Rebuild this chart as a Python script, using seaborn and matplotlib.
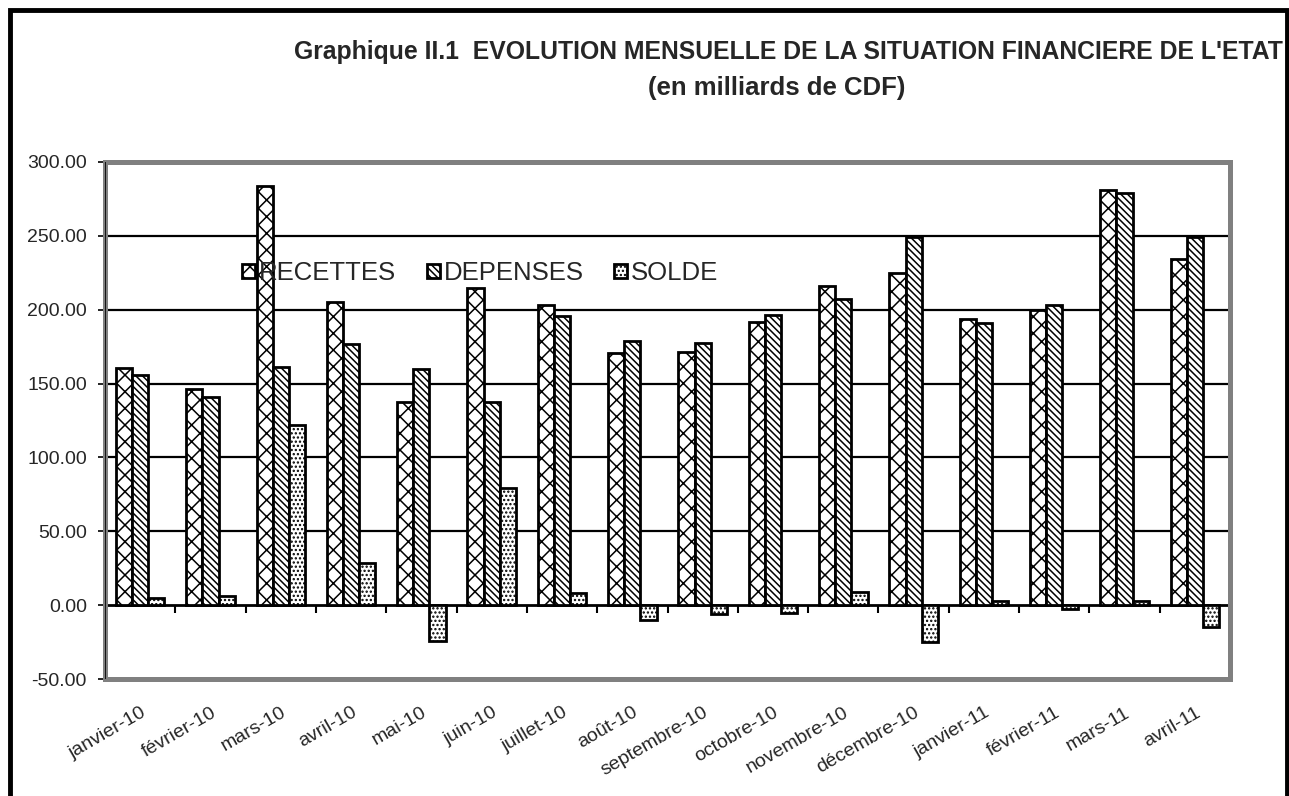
import numpy as np
import pandas as pd
import matplotlib
matplotlib.use('Agg')
import matplotlib.pyplot as plt
from matplotlib.patches import Rectangle
import seaborn as sns

mois = ['janvier-10', 'février-10', 'mars-10', 'avril-10', 'mai-10', 'juin-10',
        'juillet-10', 'août-10', 'septembre-10', 'octobre-10', 'novembre-10',
        'décembre-10', 'janvier-11', 'février-11', 'mars-11', 'avril-11']
recettes = [160.5, 146, 284, 205, 137.5, 215, 203, 170.5, 171.5, 192, 216, 225, 194, 200, 281, 234.5]
depenses = [156, 141, 161, 177, 160, 137.5, 195.5, 179, 177.5, 196.5, 207, 249, 191, 203, 279, 249]
solde = [4.5, 6, 122, 28.5, -24.5, 79, 8.5, -10, -6, -5.5, 9, -25, 3, -2.5, 3, -14.5]
series = ['RECETTES', 'DEPENSES', 'SOLDE']
hachures = ['xx', '\\\\\\\\\\', '....']
yticks = [-50, 0, 50, 100, 150, 200, 250, 300]

df = pd.DataFrame({
    'mois': mois * 3,
    'valeur': recettes + depenses + solde,
    'serie': np.repeat(series, len(mois)),
})

sns.set_theme(style='white')
plt.rcParams['font.family'] = ['Liberation Sans', 'DejaVu Sans']
plt.rcParams['hatch.linewidth'] = 1.1

fig = plt.figure(figsize=(12.89, 7.96), dpi=100)
ax = fig.add_axes([105 / 1289, 117 / 796, 1125 / 1289, 517 / 796])

sns.barplot(data=df, x='mois', y='valeur', hue='serie', hue_order=series,
            palette=['white'] * 3, edgecolor='black', linewidth=2,
            width=0.69, errorbar=None, legend=False, ax=ax, zorder=3)

for cont, h in zip(ax.containers, hachures):
    for p in cont:
        p.set_hatch(h)
        p.set_zorder(3)

ax.set_xlim(-0.5, len(mois) - 0.5)
ax.set_ylim(yticks[0], yticks[-1])
ax.set_yticks(yticks)
ax.set_yticklabels([f'{v:.2f}' for v in yticks])
ax.set_xlabel('')
ax.set_ylabel('')
for v in yticks[2:-1]:
    ax.axhline(v, color='black', lw=1.6, zorder=1)

ax.tick_params(axis='y', left=True, direction='out', length=5, width=1.2,
               color='black', pad=8, labelsize=14)
ax.tick_params(axis='x', bottom=False, pad=12, labelsize=14)
ax.set_xticks(range(len(mois)))
ax.set_xticklabels(mois, rotation=30, ha='right', rotation_mode='anchor')

for s in ax.spines.values():
    s.set_color('#808080')
    s.set_linewidth(3.6)
ax.axvline(ax.get_xlim()[0], color='black', lw=1.2, zorder=5)

# axe des abscisses sur le zéro, graduations entre les mois
y0 = (0 - yticks[0]) / (yticks[-1] - yticks[0])
sec = ax.secondary_xaxis(y0)
sec.set_xticks(np.arange(len(mois) + 1) - 0.5)
sec.set_xticklabels([])
sec.tick_params(direction='out', length=6, width=1.5, color='black')
sec.spines['bottom'].set_color('black')
sec.spines['bottom'].set_linewidth(2)
sec.spines['top'].set_visible(False)

ax.legend(handles=ax.containers, labels=series, loc='center left',
          bbox_to_anchor=(0.122, 0.785), ncol=3, frameon=False, fontsize=18.5,
          handlelength=0.5, handleheight=0.5, handletextpad=0.15,
          columnspacing=1.2, borderpad=0, borderaxespad=0)

fig.text(1283 / 1289, 1 - 52 / 796,
         "Graphique II.1  EVOLUTION MENSUELLE DE LA SITUATION FINANCIERE DE L'ETAT",
         ha='right', va='center', fontsize=17.8, fontweight='bold')
fig.text(777 / 1289, 1 - 88 / 796, '(en milliards de CDF)',
         ha='center', va='center', fontsize=18.5, fontweight='bold')

fig.add_artist(Rectangle((10 / 1289, -0.1), 1277 / 1289, 1.1 - 10 / 796,
                         transform=fig.transFigure, fill=False,
                         edgecolor='black', lw=3.5))

fig.savefig('out.png', dpi=100)
